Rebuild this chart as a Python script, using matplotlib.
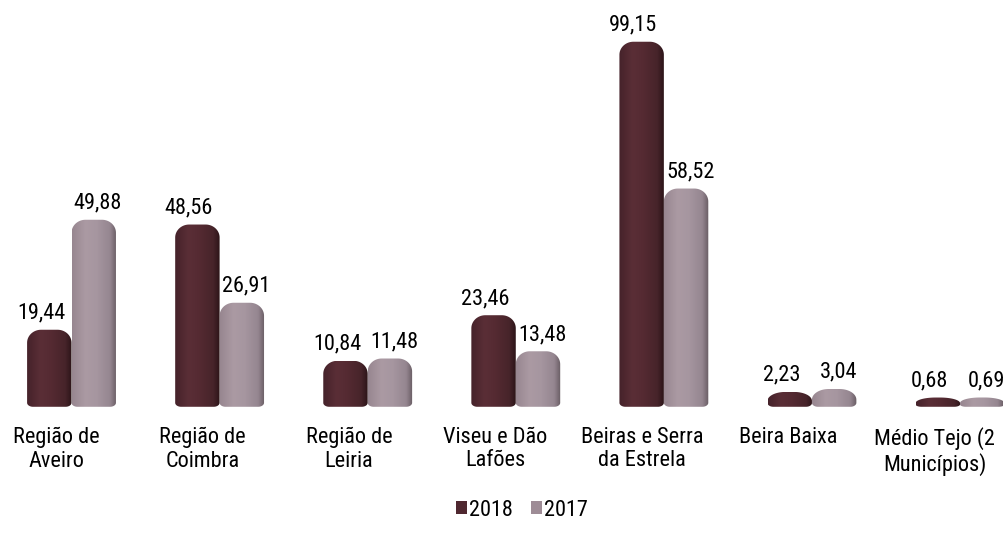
import numpy as np
import matplotlib
matplotlib.use("Agg")
import matplotlib.pyplot as plt
from matplotlib.path import Path
from matplotlib.patches import PathPatch, Patch
from matplotlib.colors import LinearSegmentedColormap
from matplotlib import font_manager as fm

categories = ["Região de\nAveiro", "Região de\nCoimbra", "Região de\nLeiria",
              "Viseu e Dão\nLafões", "Beiras e Serra\nda Estrela", "Beira Baixa",
              "Médio Tejo (2\nMunicípios)"]
v2018 = [19.44, 48.56, 10.84, 23.46, 99.15, 2.23, 0.68]
v2017 = [49.88, 26.91, 11.48, 13.48, 58.52, 3.04, 0.69]
series_names = ["2018", "2017"]

_avail = {f.name for f in fm.fontManager.ttflist}
_fams = [f for f in ['Roboto Condensed', 'Fira Sans Condensed', 'Archivo Narrow']
         if f in _avail] + ['Liberation Sans', 'DejaVu Sans']
plt.rcParams['font.family'] = _fams
FS = 16

W, H, DPI = 1004, 537, 100
fig = plt.figure(figsize=(W / DPI, H / DPI), dpi=DPI)
ax = fig.add_axes([0, 0, 1, 1])
XL = (-0.483, 6.297)
YL = (-37.92, 110.7)
ax.set_xlim(*XL)
ax.set_ylim(*YL)
ax.axis("off")

# px -> data scale factors
sx = (XL[1] - XL[0]) / W
sy = (YL[1] - YL[0]) / H

depth = 6.8 * sy   # 3D base depth below zero
bw = 0.30
x = np.arange(len(categories))

cmap18 = LinearSegmentedColormap.from_list("c18", [
    (0.0, "#45222a"), (0.3, "#5a2e36"), (0.5, "#562b33"), (0.85, "#47242a"), (1.0, "#2c1418")])
cmap17 = LinearSegmentedColormap.from_list("c17", [
    (0.0, "#978690"), (0.3, "#ab9aa3"), (0.55, "#a696a0"), (0.85, "#958690"), (1.0, "#675b62")])

grad = np.linspace(0, 1, 256).reshape(1, -1)


def rounded_path(x0, x1, y0, y1):
    h_px = (y1 - y0) / sy
    rt = min(13.0, h_px * 0.6)
    rb = min(4.0, h_px * 0.25)
    rx = 14.0 if h_px > 26 else 14.0 + (26 - h_px) * 0.35
    rxb = 6.0
    pts = []
    th = np.linspace(0, np.pi / 2, 20)
    pts.append((x0, y0 + rb * sy))
    pts.append((x0, y1 - rt * sy))
    for t in th:
        pts.append((x0 + rx * sx * (1 - np.cos(t)), y1 - rt * sy * (1 - np.sin(t))))
    for t in th[::-1]:
        pts.append((x1 - rx * sx * (1 - np.cos(t)), y1 - rt * sy * (1 - np.sin(t))))
    pts.append((x1, y0 + rb * sy))
    for t in th:
        pts.append((x1 - rxb * sx * (1 - np.cos(t)), y0 + rb * sy * (1 - np.sin(t))))
    for t in th[::-1]:
        pts.append((x0 + rxb * sx * (1 - np.cos(t)), y0 + rb * sy * (1 - np.sin(t))))
    pts.append(pts[0])
    return Path(pts, closed=True)


def draw_series(xs, vals, cmap):
    bars = ax.bar(xs, np.array(vals) + depth, bw, bottom=-depth, alpha=0)
    for b in bars:
        x0 = b.get_x()
        x1 = x0 + b.get_width()
        y0 = b.get_y()
        y1 = y0 + b.get_height()
        path = rounded_path(x0, x1, y0, y1)
        patch = PathPatch(path, facecolor="none", edgecolor="none", transform=ax.transData)
        ax.add_patch(patch)
        im = ax.imshow(grad, cmap=cmap, extent=(x0, x1, y0, y1), aspect="auto",
                       interpolation="bilinear", zorder=2)
        im.set_clip_path(patch)
    return bars


b18 = draw_series(x - bw / 2, v2018, cmap18)
b17 = draw_series(x + bw / 2, v2017, cmap17)
ax.set_xlim(*XL)
ax.set_ylim(*YL)

# value labels (2018 labels sit slightly left, as in the reference)
for xs, vals, dx in ((x - bw / 2, v2018, -6), (x + bw / 2, v2017, 3)):
    for xi, v in zip(xs, vals):
        ax.annotate(f"{v:.2f}".replace(".", ","), (xi, v), xytext=(dx, 8),
                    textcoords="offset points", ha="center", va="baseline",
                    fontsize=FS, color="black")

for i, lab in enumerate(categories):
    ax.text(x[i] - 0.105 - 0.011 * i, 0.205, lab, transform=ax.get_xaxis_transform(),
            ha="center", va="top", fontsize=FS, linespacing=1.15, color="black")

handles = [Patch(facecolor="#4f2830", edgecolor="none"),
           Patch(facecolor="#9e8c96", edgecolor="none")]
fig.legend(handles, series_names, loc="center", bbox_to_anchor=(0.52, 0.05), ncol=2,
           frameon=False, fontsize=FS, handlelength=0.5, handleheight=0.5,
           handletextpad=0.1, columnspacing=0.8)

fig.savefig("out.png", dpi=DPI)
